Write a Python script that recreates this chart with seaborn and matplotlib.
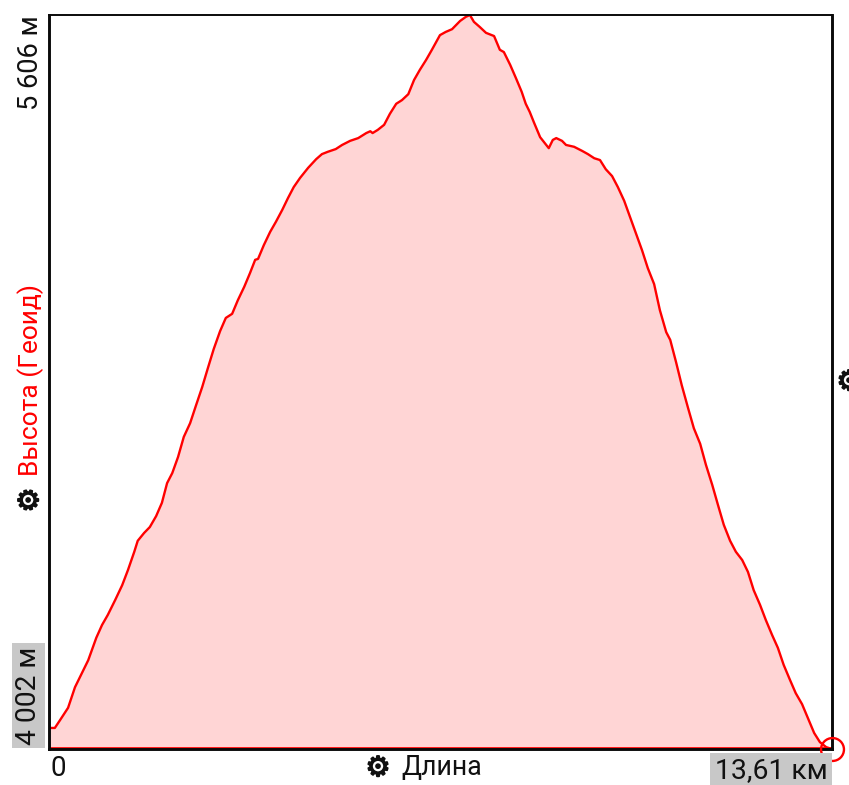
import matplotlib
matplotlib.use("Agg")
import matplotlib.pyplot as plt
import matplotlib.patheffects as pe
import seaborn as sns
import pandas as pd

length_km = [0, 0.11, 0.20, 0.34, 0.46, 0.58, 0.69, 0.83, 0.93, 1.03, 1.16, 1.28, 1.38, 1.49, 1.55, 1.66, 1.76, 1.87, 1.97, 2.06,
             2.15, 2.25, 2.35, 2.46, 2.56, 2.67, 2.77, 2.87, 2.98, 3.08, 3.19, 3.29, 3.40, 3.50, 3.59, 3.64, 3.74, 3.85, 3.95, 4.06,
             4.16, 4.26, 4.37, 4.51, 4.65, 4.75, 4.85, 4.99, 5.10, 5.24, 5.38, 5.52, 5.59, 5.63, 5.72, 5.83, 5.93, 6.04, 6.14, 6.25,
             6.35, 6.45, 6.56, 6.66, 6.80, 6.90, 7.01, 7.15, 7.25, 7.32, 7.39, 7.49, 7.60, 7.74, 7.84, 7.91, 8.02, 8.12, 8.22, 8.29,
             8.36, 8.43, 8.54, 8.62, 8.69, 8.76, 8.82, 8.92, 8.99, 9.13, 9.27, 9.37, 9.48, 9.58, 9.68, 9.79, 9.89, 10.00, 10.10, 10.20,
             10.31, 10.41, 10.52, 10.62, 10.73, 10.80, 10.90, 11.00, 11.11, 11.21, 11.32, 11.42, 11.53, 11.63, 11.73, 11.84, 11.94, 12.05, 12.15, 12.25,
             12.36, 12.46, 12.57, 12.67, 12.77, 12.88, 12.98, 13.09, 13.19, 13.30, 13.40, 13.51, 13.61]
altitude_m = [4048, 4048, 4065, 4092, 4137, 4168, 4196, 4245, 4273, 4295, 4328, 4360, 4393, 4433, 4457, 4474, 4487, 4511, 4540, 4583,
              4605, 4640, 4684, 4714, 4752, 4793, 4835, 4876, 4915, 4944, 4953, 4983, 5012, 5042, 5071, 5073, 5103, 5132, 5154, 5180,
              5206, 5230, 5250, 5272, 5291, 5302, 5307, 5313, 5322, 5331, 5337, 5348, 5352, 5348, 5355, 5366, 5390, 5412, 5420, 5433,
              5464, 5486, 5508, 5530, 5562, 5569, 5575, 5593, 5602, 5606, 5591, 5580, 5567, 5560, 5530, 5525, 5497, 5468, 5438, 5412,
              5394, 5372, 5339, 5326, 5315, 5333, 5337, 5331, 5322, 5318, 5309, 5302, 5293, 5289, 5269, 5254, 5230, 5200, 5165, 5130,
              5092, 5053, 5018, 4961, 4913, 4896, 4848, 4797, 4747, 4703, 4669, 4623, 4579, 4535, 4492, 4457, 4433, 4415, 4389, 4349,
              4317, 4284, 4251, 4223, 4186, 4153, 4124, 4100, 4070, 4037, 4017, 4006, 4002]
x_limits = [0, 13.61]
y_limits = [4002, 5606]
y_top_label = "5 606 м"
y_bottom_label = "4 002 м"
y_title = "Высота (Геоид)"
x_left_label = "0"
x_right_label = "13,61 км"
x_title = "Длина"
gear = "\u2699"

W, H = 849, 785
sns.set_theme(style="white")
plt.rcParams["font.family"] = ["Roboto", "DejaVu Sans"]

df = pd.DataFrame({"km": length_km, "m": altitude_m})
fig = plt.figure(figsize=(W / 100, H / 100), dpi=100)
ax = fig.add_axes([48.5 / W, 1 - 749 / H, 783.5 / W, 734 / H])
ax.fill_between(df["km"], df["m"], y_limits[0], color="#FFD5D5", lw=0)
sns.lineplot(data=df, x="km", y="m", color="#FF0000", lw=1.7, ax=ax, estimator=None, sort=False)
ax.axhline(y_limits[0], color="#FF0000", lw=3.4, zorder=4)
ax.set_xlim(x_limits)
ax.set_ylim(y_limits)
ax.set_xticks([])
ax.set_yticks([])
ax.set_xlabel("")
ax.set_ylabel("")
for name, s in ax.spines.items():
    s.set_color("#0A0A0A")
    s.set_linewidth(1.4 if name == "top" else 2.1)
    s.set_zorder(5)
ax.plot([x_limits[1]], [y_limits[0]], "o", ms=16.5, mfc="none", mec="#FF0000", mew=1.7, clip_on=False, zorder=6)


def put(px, py, s, **kw):
    kw.setdefault("fontsize", 19.3)
    kw.setdefault("color", "#111111")
    return fig.text(px / W, 1 - py / H, s, **kw)


def put_gear(px, py, **kw):
    t = put(px, py, gear, ha="center", va="center", fontsize=20, family="DejaVu Sans", **kw)
    t.set_path_effects([pe.withStroke(linewidth=1.1, foreground="#111111")])
    return t


put(31, 15, y_top_label, rotation=90, ha="center", va="top", fontsize=19.6)
put(31, 476, y_title, rotation=90, ha="center", va="bottom", color="#FF0000", fontsize=19)
put_gear(30, 500, rotation=90)
put(28.5, 745, y_bottom_label, rotation=90, ha="center", va="bottom", fontsize=20.3,
    bbox=dict(facecolor="#C8C8C8", edgecolor="none", pad=2.5))
put(50, 768, x_left_label, ha="left", va="center", fontsize=20)
put_gear(378, 768)
put(401, 768, x_title, ha="left", va="center")
put(827.5, 771, x_right_label, ha="right", va="center", fontsize=20.4,
    bbox=dict(facecolor="#C8C8C8", edgecolor="none", pad=3.5))
put_gear(849, 382)

fig.savefig("out.png", dpi=100)
